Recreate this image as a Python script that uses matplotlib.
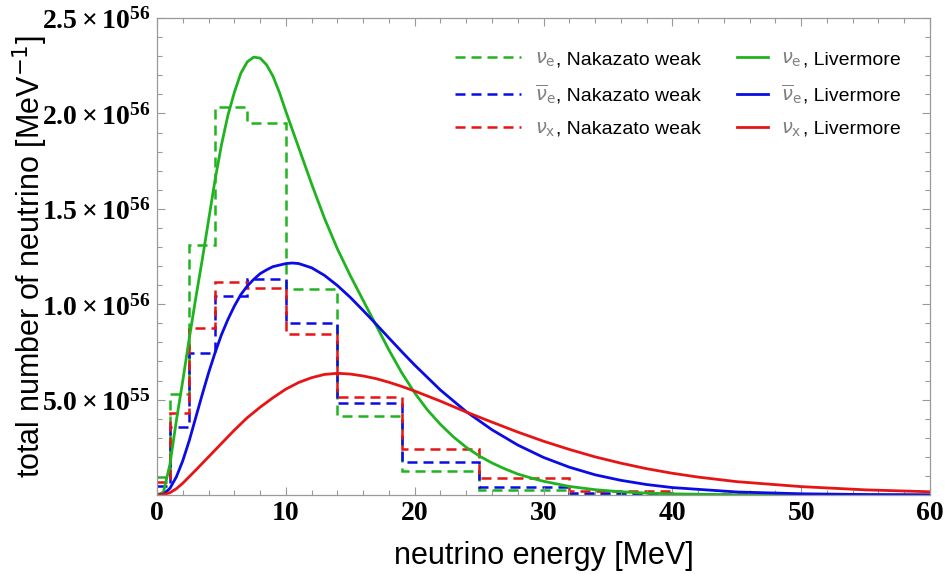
# neutrino spectra: Nakazato weak (binned) vs Livermore (smooth)

import numpy as np
import matplotlib
matplotlib.use('Agg')
import matplotlib.pyplot as plt
from matplotlib.text import Text
from matplotlib.transforms import offset_copy
from matplotlib.ticker import MultipleLocator, FixedLocator, FixedFormatter

plt.rcParams['mathtext.fontset'] = 'custom'
plt.rcParams['mathtext.rm'] = 'Liberation Serif:bold'
plt.rcParams['mathtext.it'] = 'Liberation Serif:bold'
plt.rcParams['mathtext.bf'] = 'Liberation Serif:bold'

# Nakazato weak, binned (units of 1e55 / MeV)
edges = [0, 1, 2.5, 4.5, 7, 10, 14, 19, 25, 32, 40, 47]
naka_nue = [0.92, 5.31, 13.08, 20.33, 19.48, 10.82, 4.15, 1.24, 0.26, 0.05, 0.01]
naka_nuebar = [0.49, 3.54, 7.44, 10.45, 11.34, 9.02, 4.84, 1.74, 0.44, 0.09, 0.02]
naka_nux = [0.66, 4.29, 8.73, 11.15, 10.85, 8.45, 5.14, 2.40, 0.87, 0.19, 0.05]

# Livermore (units of 1e55 / MeV)
E_nue = [0, 0.5, 1, 1.5, 2, 2.5, 3, 3.5, 4, 4.5, 5, 5.5, 6, 6.5, 7, 7.5, 8, 8.5, 9, 9.5,
         10, 11, 12, 13, 14, 15, 16, 17, 18, 19, 20, 21, 22, 23, 24, 25, 26, 27, 28, 29,
         30, 32, 34, 36, 38, 40, 45, 50, 55, 60]
liv_nue = [0, 0.15, 1.6, 3.9, 6.0, 8.2, 10.3, 12.3, 14.4, 16.5, 18.35, 19.9, 21.1, 22.1, 22.7,
           22.95, 22.9, 22.55, 21.95, 21.1, 20.1, 18.2, 16.3, 14.5, 12.9, 11.5, 10.2, 8.9, 7.6,
           6.4, 5.35, 4.45, 3.7, 3.05, 2.5, 2.05, 1.68, 1.37, 1.1, 0.9, 0.72, 0.45, 0.28, 0.17,
           0.1, 0.06, 0.015, 0.003, 0.0005, 0]

E_nuebar = [0, 0.5, 1, 1.5, 2, 2.5, 3, 3.5, 4, 4.5, 5, 5.5, 6, 6.5, 7, 7.5, 8, 8.5, 9, 10,
            10.5, 11, 12, 13, 14, 15, 16, 17, 18, 19, 20, 22, 24, 26, 28, 30, 32, 34, 36, 38,
            40, 45, 50, 55, 60]
liv_nuebar = [0, 0.04, 0.35, 0.95, 1.8, 2.85, 4.05, 5.25, 6.4, 7.45, 8.4, 9.2, 9.9, 10.5, 10.95,
              11.3, 11.6, 11.8, 11.97, 12.13, 12.16, 12.13, 11.91, 11.51, 10.98, 10.36, 9.67,
              8.96, 8.23, 7.51, 6.81, 5.5, 4.37, 3.42, 2.62, 1.97, 1.46, 1.06, 0.77, 0.55, 0.39,
              0.16, 0.065, 0.025, 0.01]

E_nux = [0, 0.5, 1, 1.5, 2, 3, 4, 5, 6, 7, 8, 9, 10, 11, 12, 13, 14, 15, 16, 17, 18, 19, 20,
         22, 24, 26, 28, 30, 32, 34, 36, 38, 40, 42, 45, 50, 55, 60]
liv_nux = [0, 0.03, 0.12, 0.33, 0.62, 1.3, 2.0, 2.7, 3.4, 4.05, 4.6, 5.1, 5.55, 5.9, 6.15, 6.32,
           6.38, 6.34, 6.24, 6.10, 5.91, 5.69, 5.45, 4.92, 4.35, 3.82, 3.30, 2.82, 2.39, 2.0,
           1.67, 1.38, 1.14, 0.94, 0.7, 0.44, 0.27, 0.17]

syms = [r'$\nu_{\mathrm{e}}$', r'$\overline{\nu}_{\mathrm{e}}$', r'$\nu_{\mathrm{x}}$']

scale = 1e55
green = '#1fb41f'
blue = '#0b0be6'
red = '#e61414'

fig = plt.figure(figsize=(9.46, 5.74), dpi=100)
ax = fig.add_axes([0.166, 0.1376, 0.8171, 0.831])

dash = (0, (4, 2.4))
ax.stairs(np.array(naka_nue) * scale, edges, baseline=None, color=green, lw=1.8, linestyle=dash)
ax.stairs(np.array(naka_nuebar) * scale, edges, baseline=None, color=blue, lw=1.8, linestyle=dash)
ax.stairs(np.array(naka_nux) * scale, edges, baseline=None, color=red, lw=1.8, linestyle=dash)

ax.plot(E_nue, np.array(liv_nue) * scale, color=green, lw=2.0)
ax.plot(E_nuebar, np.array(liv_nuebar) * scale, color=blue, lw=2.0)
ax.plot(E_nux, np.array(liv_nux) * scale, color=red, lw=2.0)

ax.set_xlim(0, 60)
ax.set_ylim(0, 2.5e56)

ax.xaxis.set_minor_locator(MultipleLocator(2))
ax.set_xticks([0, 10, 20, 30, 40, 50, 60])
ax.set_xticklabels(['0', '10', '20', '30', '40', '50', '60'],
                   fontfamily='Liberation Serif', fontweight='bold', fontsize=20)

yt = [5e55, 1e56, 1.5e56, 2e56, 2.5e56]
ylab = [r'$5.0\times10^{55}$', r'$1.0\times10^{56}$', r'$1.5\times10^{56}$',
        r'$2.0\times10^{56}$', r'$2.5\times10^{56}$']
ax.yaxis.set_major_locator(FixedLocator(yt))
ax.yaxis.set_major_formatter(FixedFormatter(ylab))
ax.yaxis.set_minor_locator(MultipleLocator(1e55))
for t in ax.get_yticklabels():
    t.set_fontsize(20)

ax.tick_params(which='both', direction='in', top=True, right=True,
               color='#999999', labelcolor='black')
ax.tick_params(which='major', length=6, width=0.8)
ax.tick_params(which='minor', length=3.5, width=0.8)
ax.tick_params(axis='x', pad=4)
ax.tick_params(axis='y', pad=5)
for sp in ax.spines.values():
    sp.set_color('#999999')
    sp.set_linewidth(0.9)

ax.set_xlabel('neutrino energy [MeV]', fontfamily='Liberation Sans', fontsize=22, labelpad=11)
ax.set_ylabel('total number of neutrino [MeV$^{-1}$]', fontfamily='Liberation Sans',
              fontsize=22, math_fontfamily='dejavusans')
ax.yaxis.set_label_coords(-0.138, 0.5)

# legends: dashed column and solid column; grey symbol is the legend text
lp = {'family': 'Liberation Sans', 'size': 14}
h1 = [plt.Line2D([], [], color=c, lw=1.8, linestyle=dash) for c in (green, blue, red)]
h2 = [plt.Line2D([], [], color=c, lw=2.0) for c in (green, blue, red)]
rest1 = ', Nakazato weak'
rest2 = ', Livermore'
leg1 = ax.legend(h1, syms, loc='upper left', bbox_to_anchor=(0.3855, 0.932),
                 frameon=False, prop=lp, handlelength=3.4, handletextpad=0.7, labelspacing=0.7,
                 borderpad=0, borderaxespad=0)
ax.add_artist(leg1)
leg2 = ax.legend(h2, syms, loc='upper left', bbox_to_anchor=(0.750, 0.932),
                 frameon=False, prop=lp, handlelength=1.6, handletextpad=0.7, labelspacing=0.7,
                 borderpad=0, borderaxespad=0)
for leg in (leg1, leg2):
    for t in leg.get_texts():
        t.set_math_fontfamily('dejavusans')
        t.set_color('#808080')

# black rest of each label, placed right after the grey symbol
fig.canvas.draw()
rend = fig.canvas.get_renderer()
for leg, rest in ((leg1, rest1), (leg2, rest2)):
    for t in leg.get_texts():
        x, y = t.get_position()
        w = t.get_window_extent(rend).width
        k = Text(x, y, rest,
                 transform=offset_copy(t.get_transform(), fig=fig, x=w + 1, y=0, units='dots'),
                 color='black', va=t.get_va(), ha='left', fontproperties=t.get_fontproperties())
        fig.add_artist(k)

fig.savefig('out.png', dpi=100)
